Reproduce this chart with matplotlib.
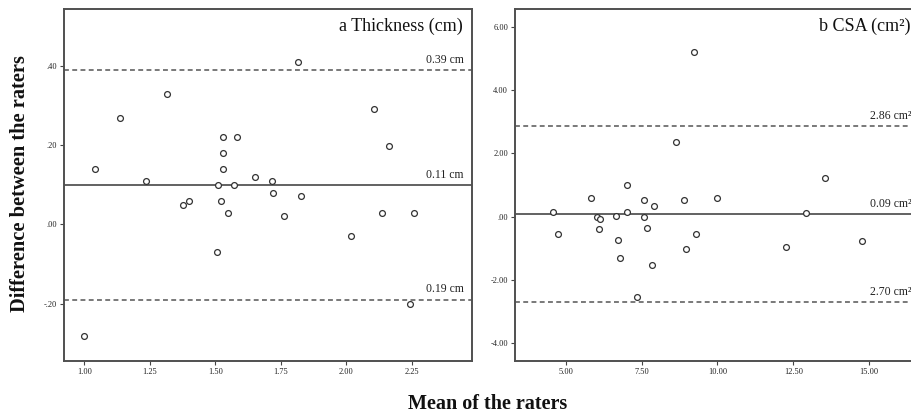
import matplotlib
matplotlib.use("Agg")
import matplotlib.pyplot as plt
from matplotlib.ticker import FixedLocator, FuncFormatter

# ---- data: panel a (thickness, cm) ----
thick_mean = [1.041, 1.136, 1.316, 1.235, 1.531, 1.582, 1.531, 1.531, 1.652, 1.511,
              1.571, 1.376, 1.401, 1.520, 1.547, 1.817, 2.107, 2.163, 1.716, 1.721,
              1.827, 1.762, 2.137, 2.257, 2.017, 1.505, 1.000, 2.243]
thick_diff = [0.140, 0.269, 0.330, 0.110, 0.220, 0.220, 0.179, 0.140, 0.120, 0.099,
              0.099, 0.050, 0.060, 0.060, 0.029, 0.410, 0.290, 0.199, 0.110, 0.080,
              0.071, 0.020, 0.029, 0.029, -0.030, -0.071, -0.281, -0.200]
thick_lines = [0.39, 0.10, -0.19]
thick_line_labels = ["0.39 cm", "0.11 cm", "0.19 cm"]
thick_xticks = [1.00, 1.25, 1.50, 1.75, 2.00, 2.25]
thick_yticks = [0.40, 0.20, 0.00, -0.20]
thick_title = "a Thickness (cm)"

# ---- data: panel b (CSA, cm^2) ----
csa_mean = [9.236, 8.623, 13.56, 7.03, 5.833, 7.569, 7.918, 8.906, 9.983, 4.572,
            4.756, 6.031, 6.141, 6.107, 6.657, 7.03, 7.589, 7.668, 6.713, 6.779,
            7.853, 7.358, 8.962, 9.302, 12.915, 12.266, 14.77]
csa_diff = [5.19, 2.37, 1.23, 0.99, 0.60, 0.53, 0.35, 0.54, 0.59, 0.14,
            -0.53, -0.01, -0.07, -0.38, 0.03, 0.15, -0.01, -0.36, -0.73, -1.29,
            -1.52, -2.53, -1.02, -0.53, 0.13, -0.97, -0.78]
csa_lines = [2.86, 0.09, -2.70]
csa_line_labels = ["2.86 cm\u00b2", "0.09 cm\u00b2", "2.70 cm\u00b2"]
csa_xticks = [5.0, 7.5, 10.0, 12.5, 15.0]
csa_yticks = [6.0, 4.0, 2.0, 0.0, -2.0, -4.0]
csa_title = "b CSA (cm\u00b2)"

ylabel = "Difference between the raters"
xlabel = "Mean of the raters"

SERIF = ["Liberation Serif", "DejaVu Serif"]
plt.rcParams["font.family"] = SERIF

W, H = 912, 415
fig = plt.figure(figsize=(W / 100, H / 100), dpi=100)

def px_axes(l, r, t, b):
    return fig.add_axes([l / W, 1 - b / H, (r - l) / W, (b - t) / H])

def spss_fmt(v, pos):
    s = f"{v:.2f}"
    if s.startswith("0."):
        s = s[1:]
    elif s.startswith("-0."):
        s = "-" + s[2:]
    if s == "-.00":
        s = ".00"
    return s

edge = "#505050"
line_c = "#555555"

def style(ax, xt, yt, right_spine=True):
    for sp in ["left", "bottom", "top", "right"]:
        ax.spines[sp].set_color(edge)
        ax.spines[sp].set_linewidth(1.4)
    if not right_spine:
        ax.spines["right"].set_visible(False)
    ax.xaxis.set_major_locator(FixedLocator(xt))
    ax.yaxis.set_major_locator(FixedLocator(yt))
    ax.xaxis.set_major_formatter(FuncFormatter(spss_fmt))
    ax.yaxis.set_major_formatter(FuncFormatter(spss_fmt))
    ax.tick_params(direction="out", length=3, width=0.8, color="#444444",
                   labelsize=6, pad=2, labelcolor="#222222")

# ---- panel a ----
ax1 = px_axes(64, 472, 9, 361)
ax1.set_xlim(0.9225, 2.480)
ax1.set_ylim(-0.345, 0.5437)
style(ax1, thick_xticks, thick_yticks)
ax1.plot(thick_mean, thick_diff, linestyle="none", marker="o", ms=4.2,
         mfc="white", mec="#333333", mew=0.9, zorder=3)
for v, lab, ls in zip(thick_lines, thick_line_labels, ["--", "-", "--"]):
    if ls == "--":
        ax1.axhline(v, color=line_c, lw=1.1, linestyle=(0, (3.2, 2.2)), zorder=2)
    else:
        ax1.axhline(v, color=line_c, lw=1.3, zorder=2)
    ax1.annotate(lab, xy=(0.980, v), xycoords=("axes fraction", "data"),
                 xytext=(0, 3), textcoords="offset points", ha="right", va="bottom",
                 fontsize=8.5, color="#222222")
ax1.text(0.978, 0.952, thick_title, transform=ax1.transAxes, ha="right", va="center",
         fontsize=13, color="#111111")

# ---- panel b ----
ax2 = px_axes(515, 922, 9, 361)
ax2.set_xlim(3.33, 16.74)
ax2.set_ylim(-4.556, 6.56)
style(ax2, csa_xticks, csa_yticks, right_spine=False)
ax2.plot(csa_mean, csa_diff, linestyle="none", marker="o", ms=4.2,
         mfc="white", mec="#333333", mew=0.9, zorder=3)
for v, lab, ls in zip(csa_lines, csa_line_labels, ["--", "-", "--"]):
    if ls == "--":
        ax2.axhline(v, color=line_c, lw=1.1, linestyle=(0, (3.2, 2.2)), zorder=2)
    else:
        ax2.axhline(v, color=line_c, lw=1.3, zorder=2)
    ax2.annotate(lab, xy=((912 - 515) / (922 - 515), v), xycoords=("axes fraction", "data"),
                 xytext=(0, 3), textcoords="offset points", ha="right", va="bottom",
                 fontsize=8.5, color="#222222")
ax2.text((911 - 515) / (922 - 515), 0.952, csa_title, transform=ax2.transAxes,
         ha="right", va="center", fontsize=13, color="#111111")

fig.text(20 / W, 1 - 184 / H, ylabel, rotation=90, ha="center", va="center",
         fontsize=14.7, fontweight="bold", color="#111111")
fig.text(488 / W, 1 - 404 / H, xlabel, ha="center", va="center",
         fontsize=14.5, fontweight="bold", color="#111111")

fig.savefig("out.png", dpi=100, facecolor="white")
